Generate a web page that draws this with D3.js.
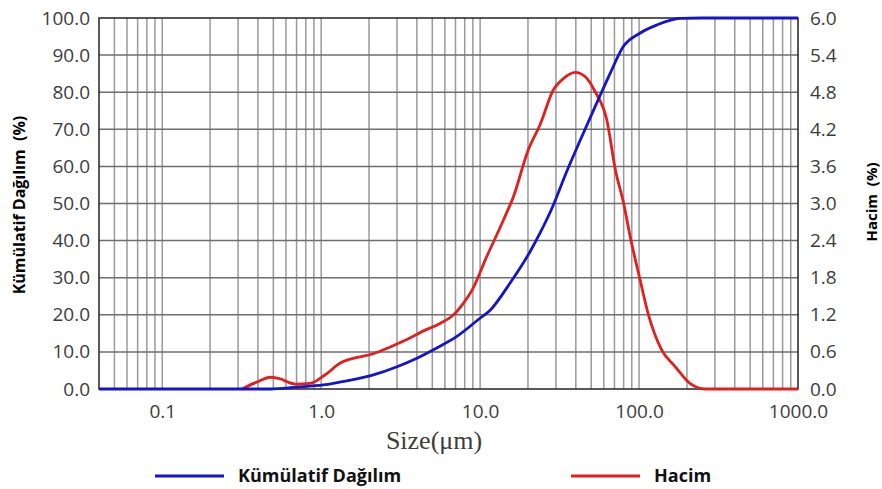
<!DOCTYPE html>
<html>
<head>
<meta charset="utf-8">
<script src="https://cdn.jsdelivr.net/npm/d3@7/dist/d3.min.js"></script>
<style>
  body { margin: 0; background: #fff; }
  text { font-family: "Open Sans", sans-serif; }
</style>
</head>
<body>
<div id="chart"></div>
<script>
var width = 882;
var height = 489;

// cumulative distribution (left axis, %)
var cumSizes = [0.04, 0.48, 0.7, 1.03, 1.45, 2.13, 3.0, 4.0, 5.3, 7.1, 9.8, 11.6, 15.4, 20.6, 23.8, 28.9, 34.2, 42.7, 52.9, 65.8, 79.6, 101, 129, 181, 250, 1000];
var cumValues = [0, 0, 0.5, 1.1, 2.2, 3.8, 6.0, 8.3, 11.0, 14.1, 18.8, 21.3, 28.5, 37.0, 42, 49.6, 57.5, 67.1, 76.1, 85.1, 92.3, 95.9, 98.1, 99.9, 100, 100];

// volume (right axis, %)
var volSizes = [0.317, 0.4, 0.478, 0.54, 0.686, 0.85, 1.06, 1.32, 1.68, 2.13, 2.72, 3.46, 4.4, 5.6, 6.8, 7.86, 8.9, 11, 14, 16.2, 20.1, 23.8, 28.9, 33.4, 39.7, 45.9, 52.9, 62.7, 71, 80, 88, 101.6, 114, 139, 169, 209, 261, 1000];
var volValues = [0, 0.12, 0.19, 0.17, 0.08, 0.09, 0.23, 0.42, 0.51, 0.57, 0.68, 0.80, 0.94, 1.06, 1.2, 1.39, 1.6, 2.14, 2.73, 3.11, 3.87, 4.27, 4.84, 5.02, 5.12, 5.05, 4.81, 4.35, 3.54, 3.0, 2.46, 1.76, 1.22, 0.63, 0.36, 0.09, 0, 0];

var xTicks = [0.1, 1, 10, 100, 1000];
var leftTicks = [0, 10, 20, 30, 40, 50, 60, 70, 80, 90, 100];
var rightTicks = [0, 0.6, 1.2, 1.8, 2.4, 3.0, 3.6, 4.2, 4.8, 5.4, 6.0];

var plotLeft = 99, plotRight = 798, plotTop = 18, plotBottom = 389;

var xScale = d3.scaleLog().domain([0.04, 1000]).range([plotLeft, plotRight]);
var yLeft = d3.scaleLinear().domain([0, 100]).range([plotBottom, plotTop]);
var yRight = d3.scaleLinear().domain([0, 6]).range([plotBottom, plotTop]);

var chart = d3.select("#chart")
    .append("svg")
    .attr("width", width)
    .attr("height", height);

// vertical grid (minor log ticks)
var minor = [];
[0.01, 0.1, 1, 10, 100].forEach(function(dec) {
    for (var k = 1; k <= 9; k++) {
        var v = dec * k;
        if (v > 0.0401 && v < 999) minor.push(v);
    }
});
chart.append("g")
    .selectAll("line")
    .data(minor)
    .enter()
    .append("line")
    .attr("x1", function(d) { return xScale(d); })
    .attr("x2", function(d) { return xScale(d); })
    .attr("y1", plotTop)
    .attr("y2", plotBottom)
    .attr("stroke", "#9a9a9a")
    .attr("stroke-width", 1.5);

// horizontal grid
chart.append("g")
    .selectAll("line")
    .data(leftTicks.slice(1, -1))
    .enter()
    .append("line")
    .attr("x1", plotLeft)
    .attr("x2", plotRight)
    .attr("y1", function(d) { return yLeft(d); })
    .attr("y2", function(d) { return yLeft(d); })
    .attr("stroke", "#6e6e6e")
    .attr("stroke-width", 1.5);

// frame
chart.append("rect")
    .attr("x", plotLeft)
    .attr("y", plotTop)
    .attr("width", plotRight - plotLeft)
    .attr("height", plotBottom - plotTop)
    .attr("fill", "none")
    .attr("stroke", "#222")
    .attr("stroke-width", 1.5);

// axes
var xAxis = d3.axisBottom(xScale).tickValues(xTicks).tickSize(0).tickPadding(16)
    .tickFormat(d3.format(".1f"));
var leftAxis = d3.axisLeft(yLeft).tickValues(leftTicks).tickSize(0).tickPadding(9)
    .tickFormat(d3.format(".1f"));
var rightAxis = d3.axisRight(yRight).tickValues(rightTicks).tickSize(0).tickPadding(12)
    .tickFormat(d3.format(".1f"));

function styleAxis(g) {
    g.select(".domain").remove();
    g.selectAll("text")
        .style("font-family", "'Open Sans', sans-serif")
        .style("font-size", "19px")
        .attr("fill", "#3c3c3c");
}

chart.append("g")
    .attr("transform", "translate(0," + plotBottom + ")")
    .call(xAxis)
    .call(styleAxis);
chart.append("g")
    .attr("transform", "translate(" + plotLeft + ",0)")
    .call(leftAxis)
    .call(styleAxis);
chart.append("g")
    .attr("transform", "translate(" + plotRight + ",0)")
    .call(rightAxis)
    .call(styleAxis);

// lines
var cumData = cumSizes.map(function(s, i) { return { s: s, v: cumValues[i] }; });
var volData = volSizes.map(function(s, i) { return { s: s, v: volValues[i] }; });

var cumLine = d3.line()
    .x(function(d) { return xScale(d.s); })
    .y(function(d) { return yLeft(d.v); })
    .curve(d3.curveMonotoneX);
var volLine = d3.line()
    .x(function(d) { return xScale(d.s); })
    .y(function(d) { return yRight(d.v); })
    .curve(d3.curveMonotoneX);

chart.append("path")
    .datum(volData)
    .attr("d", volLine)
    .attr("fill", "none")
    .attr("stroke", "#e0201e")
    .attr("stroke-width", 2.8);
chart.append("path")
    .datum(cumData)
    .attr("d", cumLine)
    .attr("fill", "none")
    .attr("stroke", "#1414c8")
    .attr("stroke-width", 2.8);

// axis titles
chart.append("text")
    .attr("transform", "translate(19,205) rotate(-90)")
    .attr("text-anchor", "middle")
    .attr("dy", "0.35em")
    .style("font-size", "16px")
    .style("font-weight", "bold")
    .style("white-space", "pre")
    .text("Kümülatif Dağılım  (%)");
chart.append("text")
    .attr("transform", "translate(872,202) rotate(-90)")
    .attr("text-anchor", "middle")
    .attr("dy", "0.35em")
    .style("font-size", "15px")
    .style("font-weight", "bold")
    .style("white-space", "pre")
    .text("Hacim  (%)");
chart.append("text")
    .attr("x", 434)
    .attr("y", 440)
    .attr("dy", "0.35em")
    .attr("text-anchor", "middle")
    .style("font-family", "'Liberation Serif', serif")
    .style("font-size", "26px")
    .attr("fill", "#3c3c3c")
    .text("Size(μm)");

// legend
var legend = [
    { name: "Kümülatif Dağılım", color: "#1414c8", x: 155 },
    { name: "Hacim", color: "#e0201e", x: 571 }
];
var lg = chart.selectAll(".legend")
    .data(legend)
    .enter()
    .append("g")
    .attr("class", "legend")
    .attr("transform", function(d) { return "translate(" + d.x + ",476)"; });
lg.append("line")
    .attr("x1", 0)
    .attr("x2", 69)
    .attr("stroke", function(d) { return d.color; })
    .attr("stroke-width", 3);
lg.append("text")
    .attr("x", 83)
    .attr("dy", "0.35em")
    .style("font-size", "18px")
    .style("font-weight", "bold")
    .attr("fill", "#111")
    .text(function(d) { return d.name; });
</script>
</body>
</html>
